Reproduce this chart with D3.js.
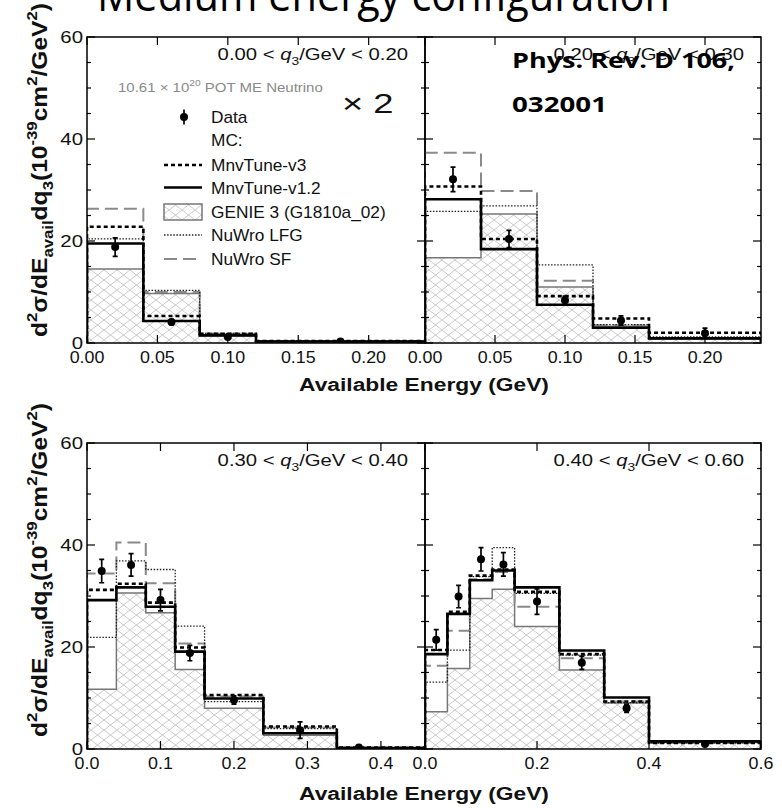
<!DOCTYPE html>
<html>
<head>
<meta charset="utf-8">
<script src="https://cdn.jsdelivr.net/npm/d3@7"></script>
<style>
  body { margin: 0; background: #fff; }
  svg { display: block; }
</style>
</head>
<body>
<svg id="chart" width="782" height="808"></svg>
<script>
// q3 slices shown in the four panels
const sliceLo = ["0.00", "0.20", "0.30", "0.40"];
const sliceHi = ["0.20", "0.30", "0.40", "0.60"];

// Available-energy bin edges (GeV) per slice
const binEdges = [
  [0, 0.04, 0.08, 0.12, 0.24],
  [0, 0.04, 0.08, 0.12, 0.16, 0.24],
  [0, 0.04, 0.08, 0.12, 0.16, 0.24, 0.34, 0.46],
  [0, 0.04, 0.08, 0.12, 0.16, 0.24, 0.32, 0.40, 0.60]
];
const xMax = [0.24, 0.24, 0.46, 0.60];
const xTicks = [
  [0, 0.05, 0.10, 0.15, 0.20],
  [0, 0.05, 0.10, 0.15, 0.20],
  [0, 0.1, 0.2, 0.3, 0.4],
  [0, 0.2, 0.4, 0.6]
];
const xTickFormat = [".2f", ".2f", ".1f", ".1f"];
const yTicks = [0, 20, 40, 60];

// Measured cross section, 10^-39 cm^2/GeV^2 (first slice scaled x2)
const dataX = [
  [0.02, 0.06, 0.10, 0.18],
  [0.02, 0.06, 0.10, 0.14, 0.20],
  [0.02, 0.06, 0.10, 0.14, 0.20, 0.29, 0.37],
  [0.02, 0.06, 0.10, 0.14, 0.20, 0.28, 0.36, 0.50]
];
const dataY = [
  [18.8, 4.1, 1.2, 0.3],
  [32.1, 20.4, 8.4, 4.4, 1.9],
  [34.9, 36.1, 29.2, 18.8, 9.6, 3.7, 0.3],
  [21.4, 29.9, 37.2, 36.2, 28.9, 16.9, 8.0, 1.0]
];
const dataErr = [
  [1.8, 0.5, 0.2, 0.1],
  [2.4, 1.7, 0.8, 0.9, 1.0],
  [2.3, 2.2, 2.1, 1.5, 0.8, 1.6, 0.2],
  [2.0, 2.2, 2.3, 2.3, 2.5, 1.3, 0.8, 0.3]
];

// Model predictions, one value per bin
const mnvTuneV3 = [
  [22.8, 5.3, 1.8, 0.4],
  [30.7, 20.4, 9.2, 4.8, 2.0],
  [31.2, 32.4, 28.7, 19.9, 10.6, 4.4, 0.3],
  [19.4, 26.9, 34.0, 35.2, 30.8, 18.6, 9.3, 1.2]
];
const mnvTuneV12 = [
  [19.5, 4.3, 1.5, 0.3],
  [28.2, 18.4, 7.5, 3.0, 0.9],
  [29.2, 31.7, 27.9, 19.1, 9.9, 3.1, 0.2],
  [18.6, 26.5, 33.1, 35.0, 31.7, 19.3, 10.1, 1.5]
];
const genie3 = [
  [14.5, 9.7, 1.4, 0.3],
  [16.7, 25.3, 11.0, 3.3, 0.8],
  [11.7, 30.6, 26.7, 15.6, 8.0, 2.7, 0.2],
  [7.3, 15.8, 29.5, 31.3, 24.0, 15.5, 9.0, 1.3]
];
const nuwroLFG = [
  [20.4, 10.3, 1.9, 0.4],
  [25.8, 26.9, 15.3, 3.6, 1.2],
  [21.9, 36.9, 35.2, 24.1, 9.3, 4.0, 0.3],
  [13.1, 19.4, 33.8, 39.5, 30.5, 18.4, 9.1, 1.2]
];
const nuwroSF = [
  [26.3, 10.0, 1.8, 0.4],
  [37.3, 29.8, 12.2, 3.5, 1.0],
  [34.4, 40.5, 32.5, 20.7, 10.3, 4.2, 0.3],
  [16.3, 23.2, 33.3, 34.7, 27.9, 17.8, 9.3, 1.2]
];

const legendNames = ["Data", "MC:", "MnvTune-v3", "MnvTune-v1.2", "GENIE 3 (G1810a_02)", "NuWro LFG", "NuWro SF"];

// ---------------------------------------------------------------------------
const svg = d3.select("#chart");
const SANS = "'Liberation Sans', Arial, sans-serif";

const frames = [
  { x0: 87, x1: 425, y0: 37, y1: 343 },
  { x0: 425, x1: 761, y0: 37, y1: 343 },
  { x0: 87, x1: 425, y0: 443, y1: 749 },
  { x0: 425, x1: 761, y0: 443, y1: 749 }
];

const lineStyles = {
  sf:   { stroke: "#8a8a8a", width: 2.0, dash: "13,6" },
  lfg:  { stroke: "#222",    width: 1.3, dash: "1.5,1.6" },
  v12:  { stroke: "#000",    width: 2.6, dash: null },
  v3:   { stroke: "#000",    width: 2.6, dash: "4,3" },
  genie:{ stroke: "#777",    width: 1.5, dash: null }
};

// cross-hatch used for the GENIE 3 prediction
const defs = svg.append("defs");
const hatch = defs.append("pattern")
  .attr("id", "hatch").attr("patternUnits", "userSpaceOnUse")
  .attr("width", 13).attr("height", 10);
hatch.append("path").attr("d", "M0,0L13,10M13,0L0,10M-6.5,5L0,10M6.5,-5L13,0M13,10L19.5,5M6.5,15L0,10")
  .attr("stroke", "#c4c4c4").attr("stroke-width", 0.9).attr("fill", "none");

// text with an optional horizontal stretch
function stext(parent, x, y, opts) {
  const g = parent.append("g")
    .attr("transform", `translate(${x},${y}) scale(${opts.sx || 1},1)` + (opts.rotate ? ` rotate(${opts.rotate})` : ""));
  const t = g.append("text")
    .attr("font-family", opts.family || SANS)
    .attr("font-size", opts.size)
    .attr("font-weight", opts.weight || "normal")
    .attr("text-anchor", opts.anchor || "start")
    .attr("fill", opts.fill || "#000");
  if (opts.text !== undefined) t.text(opts.text);
  return t;
}

// rich text: segments of normal / sup / sub / italic runs
function rich(t, segs, size) {
  let cur = 0;
  segs.forEach(s => {
    const target = s.k === "sup" ? -0.42 * size : s.k === "sub" ? 0.3 * size : 0;
    const sp = t.append("tspan").text(s.t)
      .attr("dy", target - cur)
      .attr("font-size", (s.k === "sup" || s.k === "sub") ? 0.68 * size : size);
    if (s.it) sp.attr("font-style", "italic");
    cur = target;
  });
}

function histPoints(edges, vals) {
  const pts = [[edges[0], 0]];
  vals.forEach((v, i) => { pts.push([edges[i], v]); pts.push([edges[i + 1], v]); });
  pts.push([edges[edges.length - 1], 0]);
  return pts;
}

frames.forEach((f, p) => {
  const x = d3.scaleLinear().domain([0, xMax[p]]).range([f.x0, f.x1]);
  const y = d3.scaleLinear().domain([0, 60]).range([f.y1, f.y0]);
  const g = svg.append("g");

  defs.append("clipPath").attr("id", "clip" + p)
    .append("rect").attr("x", f.x0).attr("y", f.y0)
    .attr("width", f.x1 - f.x0).attr("height", f.y1 - f.y0);
  const plot = g.append("g").attr("clip-path", `url(#clip${p})`);

  const line = d3.line().x(d => x(d[0])).y(d => y(d[1]));
  const area = d3.area().x(d => x(d[0])).y0(y(0)).y1(d => y(d[1]));

  // GENIE 3: hatched area with grey outline
  const gpts = histPoints(binEdges[p], genie3[p]);
  plot.append("path").attr("d", area(gpts)).attr("fill", "url(#hatch)");
  plot.append("path").attr("d", line(gpts)).attr("fill", "none")
    .attr("stroke", lineStyles.genie.stroke).attr("stroke-width", lineStyles.genie.width);

  [["sf", nuwroSF], ["lfg", nuwroLFG], ["v12", mnvTuneV12], ["v3", mnvTuneV3]].forEach(([key, arr]) => {
    const st = lineStyles[key];
    plot.append("path").attr("d", line(histPoints(binEdges[p], arr[p])))
      .attr("fill", "none").attr("stroke", st.stroke).attr("stroke-width", st.width)
      .attr("stroke-dasharray", st.dash).attr("stroke-linejoin", "miter");
  });

  // data points with error bars
  const pts = dataX[p].map((xv, i) => ({ x: xv, y: dataY[p][i], e: dataErr[p][i] }));
  const dg = plot.append("g");
  dg.selectAll("path.err").data(pts).join("path").attr("class", "err")
    .attr("d", d => {
      const cx = x(d.x), yt = y(d.y + d.e), yb = y(d.y - d.e);
      return `M${cx},${yt}V${yb}M${cx - 2.5},${yt}H${cx + 2.5}M${cx - 2.5},${yb}H${cx + 2.5}`;
    })
    .attr("stroke", "#000").attr("stroke-width", 1.7).attr("fill", "none");
  dg.selectAll("circle").data(pts).join("circle")
    .attr("cx", d => x(d.x)).attr("cy", d => y(d.y)).attr("r", 4).attr("fill", "#000");

  // frame
  g.append("rect").attr("x", f.x0).attr("y", f.y0)
    .attr("width", f.x1 - f.x0).attr("height", f.y1 - f.y0)
    .attr("fill", "none").attr("stroke", "#000").attr("stroke-width", 1.5);

  // ticks (inside, on all four sides)
  const ticks = g.append("g").attr("stroke", "#000").attr("stroke-width", 1.2);
  d3.range(0, 61, 5).forEach(v => {
    const len = v % 20 === 0 ? 8 : 4;
    ticks.append("line").attr("x1", f.x0).attr("x2", f.x0 + len).attr("y1", y(v)).attr("y2", y(v));
    ticks.append("line").attr("x1", f.x1).attr("x2", f.x1 - len).attr("y1", y(v)).attr("y2", y(v));
  });
  xTicks[p].forEach(v => {
    ticks.append("line").attr("x1", x(v)).attr("x2", x(v)).attr("y1", f.y1).attr("y2", f.y1 - 8);
    ticks.append("line").attr("x1", x(v)).attr("x2", x(v)).attr("y1", f.y0).attr("y2", f.y0 + 8);
  });

  // x tick labels
  const fmt = d3.format(xTickFormat[p]);
  xTicks[p].forEach(v => {
    stext(svg, x(v), f.y1 + 20, { text: fmt(v), size: 17, anchor: "middle", sx: 1.05, fill: "#111" });
  });

  // y tick labels on the left column only
  if (p % 2 === 0) {
    yTicks.forEach(v => {
      stext(svg, f.x0 - 4, y(v) + 6, { text: String(v), size: 17, anchor: "end", sx: 1.2, fill: "#111" });
    });
  }

  // slice label
  const lab = stext(svg, f.x1 - 17, f.y0 + 23, { size: 16.5, anchor: "end", sx: 1.23, fill: "#111" });
  rich(lab, [
    { t: sliceLo[p] + " < " },
    { t: "q", it: true },
    { t: "3", k: "sub" },
    { t: "/GeV < " + sliceHi[p] }
  ], 16.5);
});

// axis titles
[[391, 170], [800, 570]].forEach(([by, cy]) => {
  stext(svg, 424, by, { text: "Available Energy (GeV)", size: 19, weight: "bold", anchor: "middle", sx: 1.2, fill: "#111" });
  const yt = stext(svg, 46.5, cy, { size: 19, weight: "bold", anchor: "middle", sx: 1.2, rotate: -90, fill: "#111" })
    .attr("textLength", 334).attr("lengthAdjust", "spacingAndGlyphs");
  rich(yt, [
    { t: "d" }, { t: "2", k: "sup" }, { t: "σ/dE" }, { t: "avail", k: "sub" },
    { t: "dq" }, { t: "3", k: "sub" }, { t: "(10" }, { t: "-39", k: "sup" },
    { t: "cm" }, { t: "2", k: "sup" }, { t: "/GeV" }, { t: "2", k: "sup" }, { t: ")" }
  ], 19);
});

// legend inside the first panel
const potText = stext(svg, 118, 91.5, { size: 12.5, sx: 1.2, fill: "#8a8a8a" });
rich(potText, [{ t: "10.61 × 10" }, { t: "20", k: "sup" }, { t: " POT ME Neutrino" }], 12.5);
stext(svg, 342, 113, { text: "× 2", size: 28, sx: 1.3, fill: "#111" });

const legRows = [117, 140, 165, 187.5, 212, 235, 259];
const lx1 = 164, lx2 = 202, ltx = 211;
const leg = svg.append("g");
legendNames.forEach((name, i) => {
  stext(leg, ltx, legRows[i] + 6, { text: name, size: 16, sx: 1.08, fill: "#111" });
});
// Data marker
leg.append("line").attr("x1", 184).attr("x2", 184).attr("y1", legRows[0] - 7.5).attr("y2", legRows[0] + 7.5)
  .attr("stroke", "#000").attr("stroke-width", 1.7);
leg.append("circle").attr("cx", 184).attr("cy", legRows[0]).attr("r", 4).attr("fill", "#000");
[["v3", 2], ["v12", 3], ["lfg", 5], ["sf", 6]].forEach(([key, row]) => {
  const st = lineStyles[key];
  leg.append("line").attr("x1", lx1).attr("x2", lx2).attr("y1", legRows[row]).attr("y2", legRows[row])
    .attr("stroke", st.stroke).attr("stroke-width", st.width).attr("stroke-dasharray", st.dash);
});
leg.append("rect").attr("x", lx1).attr("y", legRows[4] - 8).attr("width", lx2 - lx1).attr("height", 16)
  .attr("fill", "url(#hatch)").attr("stroke", "#777").attr("stroke-width", 1.5);

// journal reference
stext(svg, 512, 68, { text: "Phys. Rev. D 106,", size: 21, weight: "bold", family: "'Open Sans', sans-serif" })
  .attr("textLength", 223).attr("lengthAdjust", "spacingAndGlyphs");
stext(svg, 512, 112, { text: "032001", size: 21, weight: "bold", family: "'Open Sans', sans-serif" })
  .attr("textLength", 95).attr("lengthAdjust", "spacingAndGlyphs");

// heading
stext(svg, 97, 11, { text: "Medium energy configuration", size: 46, family: "'Open Sans', sans-serif" })
  .attr("textLength", 573).attr("lengthAdjust", "spacingAndGlyphs");
</script>
</body>
</html>
